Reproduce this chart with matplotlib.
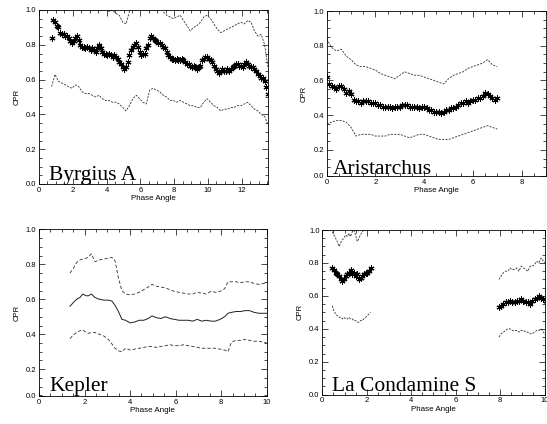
import numpy as np
import matplotlib
matplotlib.use("Agg")
from matplotlib import pyplot as plt
from matplotlib.ticker import MultipleLocator, FixedLocator, FixedFormatter

plt.rcParams["font.family"] = ["Liberation Sans", "DejaVu Sans"]

# ---- Byrgius A ----
byr_mid = [0.84, 0.94, 0.93, 0.91, 0.90, 0.87, 0.86, 0.86, 0.85, 0.85, 0.84, 0.82, 0.81, 0.82,
           0.84, 0.85, 0.83, 0.80, 0.79, 0.79, 0.78, 0.79, 0.78, 0.77, 0.78, 0.77, 0.76, 0.78,
           0.80, 0.78, 0.76, 0.75, 0.75, 0.74, 0.75, 0.74, 0.73, 0.74, 0.73, 0.72, 0.70, 0.69,
           0.67, 0.66, 0.67, 0.70, 0.74, 0.77, 0.79, 0.80, 0.81, 0.79, 0.76, 0.74, 0.75, 0.75,
           0.78, 0.80, 0.84, 0.85, 0.84, 0.83, 0.82, 0.81, 0.81, 0.80, 0.79, 0.78, 0.76, 0.74,
           0.73, 0.72, 0.72, 0.71, 0.72, 0.71, 0.71, 0.72, 0.71, 0.70, 0.69, 0.69, 0.68, 0.67,
           0.68, 0.67, 0.66, 0.67, 0.68, 0.71, 0.72, 0.73, 0.73, 0.72, 0.71, 0.70, 0.68, 0.66,
           0.65, 0.64, 0.65, 0.66, 0.65, 0.65, 0.66, 0.65, 0.66, 0.67, 0.68, 0.69, 0.69, 0.68,
           0.68, 0.67, 0.69, 0.70, 0.69, 0.68, 0.67, 0.67, 0.66, 0.65, 0.63, 0.62, 0.61, 0.61,
           0.59, 0.56, 0.52]
byr_lo = [0.56, 0.63, 0.59, 0.58, 0.57, 0.56, 0.55, 0.57, 0.56, 0.53, 0.52, 0.52, 0.51, 0.50,
          0.51, 0.49, 0.48, 0.48, 0.47, 0.47, 0.46, 0.44, 0.42, 0.45, 0.49, 0.51, 0.49, 0.47,
          0.46, 0.54, 0.55, 0.54, 0.53, 0.51, 0.50, 0.48, 0.48, 0.47, 0.48, 0.47, 0.46, 0.45,
          0.45, 0.44, 0.44, 0.47, 0.49, 0.47, 0.45, 0.44, 0.42, 0.43, 0.43, 0.44, 0.44, 0.45,
          0.45, 0.46, 0.47, 0.45, 0.43, 0.42, 0.40, 0.39, 0.34]
byr_hi = [1.10, 1.20, 1.17, 1.14, 1.13, 1.12, 1.08, 1.11, 1.10, 1.06, 1.05, 1.04, 1.04, 1.02,
          1.00, 1.02, 1.01, 0.99, 1.00, 0.98, 0.97, 0.93, 0.92, 0.99, 1.05, 1.09, 1.04, 1.02,
          1.05, 1.13, 1.14, 1.11, 1.08, 0.99, 0.97, 0.96, 0.95, 0.96, 0.97, 0.94, 0.91, 0.88,
          0.90, 0.91, 0.93, 0.96, 0.97, 0.95, 0.92, 0.89, 0.87, 0.88, 0.89, 0.90, 0.91, 0.92,
          0.93, 0.92, 0.94, 0.93, 0.88, 0.85, 0.86, 0.80, 0.67]

# ---- Aristarchus ----
ari_mid = [0.62, 0.58, 0.57, 0.56, 0.55, 0.57, 0.57, 0.55, 0.53, 0.54, 0.52, 0.49, 0.48, 0.48,
           0.47, 0.48, 0.48, 0.48, 0.47, 0.47, 0.47, 0.46, 0.46, 0.45, 0.45, 0.45, 0.45, 0.44,
           0.45, 0.45, 0.45, 0.46, 0.46, 0.46, 0.45, 0.45, 0.45, 0.45, 0.44, 0.45, 0.45, 0.44,
           0.43, 0.43, 0.42, 0.42, 0.42, 0.41, 0.42, 0.43, 0.43, 0.44, 0.44, 0.45, 0.46, 0.47,
           0.47, 0.48, 0.47, 0.48, 0.49, 0.49, 0.50, 0.50, 0.51, 0.53, 0.52, 0.51, 0.50, 0.49,
           0.50]
ari_hi = [0.84, 0.79, 0.77, 0.78, 0.74, 0.72, 0.69, 0.68, 0.68, 0.67, 0.66, 0.64, 0.63, 0.62,
          0.61, 0.63, 0.65, 0.64, 0.63, 0.63, 0.62, 0.61, 0.60, 0.59, 0.58, 0.61, 0.63, 0.64,
          0.65, 0.67, 0.68, 0.69, 0.70, 0.72, 0.69, 0.68]
ari_lo = [0.35, 0.36, 0.37, 0.37, 0.36, 0.33, 0.28, 0.29, 0.29, 0.29, 0.28, 0.28, 0.28, 0.29,
          0.29, 0.29, 0.28, 0.27, 0.28, 0.29, 0.29, 0.28, 0.27, 0.26, 0.26, 0.26, 0.27, 0.28,
          0.29, 0.30, 0.31, 0.32, 0.33, 0.34, 0.33, 0.32]

# ---- Kepler ----
kep_x = [1.36, 1.5, 1.65, 1.8, 1.92, 2.07, 2.17, 2.3, 2.46, 2.65, 2.85, 3.05, 3.2, 3.34, 3.49,
         3.64, 3.8, 4.0, 4.2, 4.4, 4.6, 4.8, 4.96, 5.15, 5.35, 5.55, 5.75, 5.95, 6.15, 6.35,
         6.55, 6.75, 6.95, 7.15, 7.35, 7.55, 7.75, 7.95, 8.15, 8.3, 8.45, 8.65, 8.85, 9.05,
         9.25, 9.45, 9.65, 9.85, 10.0]
kep_mid = [0.56, 0.58, 0.60, 0.61, 0.63, 0.62, 0.62, 0.63, 0.61, 0.60, 0.595, 0.595, 0.59,
           0.565, 0.53, 0.485, 0.48, 0.465, 0.47, 0.48, 0.48, 0.49, 0.505, 0.495, 0.49, 0.50,
           0.49, 0.485, 0.48, 0.48, 0.48, 0.475, 0.485, 0.475, 0.48, 0.475, 0.475, 0.485,
           0.50, 0.52, 0.525, 0.53, 0.53, 0.535, 0.535, 0.525, 0.52, 0.52, 0.52]
kep_hi = [0.75, 0.775, 0.81, 0.825, 0.83, 0.835, 0.84, 0.86, 0.815, 0.825, 0.83, 0.835, 0.84,
          0.82, 0.72, 0.65, 0.63, 0.625, 0.63, 0.64, 0.655, 0.67, 0.685, 0.675, 0.67, 0.665,
          0.655, 0.645, 0.64, 0.635, 0.63, 0.63, 0.64, 0.635, 0.63, 0.645, 0.64, 0.645, 0.66,
          0.70, 0.70, 0.70, 0.695, 0.70, 0.70, 0.69, 0.685, 0.69, 0.69]
kep_lo = [0.375, 0.395, 0.41, 0.42, 0.425, 0.41, 0.405, 0.41, 0.41, 0.40, 0.39, 0.37, 0.345,
          0.32, 0.305, 0.30, 0.32, 0.31, 0.315, 0.32, 0.325, 0.33, 0.33, 0.325, 0.33, 0.335,
          0.34, 0.335, 0.335, 0.34, 0.335, 0.33, 0.325, 0.32, 0.32, 0.32, 0.32, 0.315, 0.31,
          0.30, 0.355, 0.365, 0.365, 0.37, 0.365, 0.36, 0.36, 0.355, 0.35]

# ---- La Condamine S (two separate arcs) ----
lc1_x = [0.45, 0.52, 0.6, 0.67, 0.75, 0.82, 0.9, 0.97, 1.05, 1.12, 1.2, 1.27, 1.35, 1.42, 1.5,
         1.57, 1.65, 1.72, 1.8, 1.87, 1.95, 2.02, 2.1, 2.17]
lc1_mid = [0.77, 0.76, 0.74, 0.73, 0.72, 0.70, 0.69, 0.70, 0.72, 0.73, 0.74, 0.76, 0.73, 0.74,
           0.72, 0.73, 0.70, 0.71, 0.72, 0.73, 0.74, 0.74, 0.75, 0.77]
lc1_hi = [0.99, 0.97, 0.95, 0.93, 0.90, 0.92, 0.94, 0.95, 0.97, 0.96, 0.98, 0.96, 0.99, 1.00,
          0.97, 0.93, 0.95, 0.97, 0.99, 1.00, 1.01, 1.02, 1.01, 1.03]
lc1_lo = [0.54, 0.51, 0.49, 0.48, 0.47, 0.47, 0.46, 0.47, 0.46, 0.46, 0.47, 0.46, 0.46, 0.45,
          0.45, 0.44, 0.44, 0.45, 0.45, 0.46, 0.47, 0.48, 0.49, 0.50]
lc2_x = [7.95, 8.05, 8.15, 8.25, 8.35, 8.45, 8.55, 8.65, 8.75, 8.85, 8.95, 9.05, 9.15, 9.25,
         9.35, 9.45, 9.55, 9.65, 9.75, 9.85, 9.95, 10.05]
lc2_mid = [0.53, 0.54, 0.55, 0.56, 0.56, 0.57, 0.56, 0.56, 0.57, 0.57, 0.58, 0.57, 0.56, 0.56,
           0.55, 0.57, 0.58, 0.59, 0.60, 0.59, 0.58, 0.57]
lc2_hi = [0.70, 0.72, 0.74, 0.75, 0.75, 0.77, 0.76, 0.76, 0.77, 0.75, 0.78, 0.77, 0.76, 0.75,
          0.78, 0.78, 0.79, 0.81, 0.80, 0.83, 0.81, 0.80]
lc2_lo = [0.35, 0.37, 0.38, 0.39, 0.40, 0.40, 0.39, 0.39, 0.39, 0.38, 0.39, 0.39, 0.38, 0.38,
          0.37, 0.37, 0.38, 0.39, 0.39, 0.40, 0.38, 0.36]

ytick_vals = [0.0, 0.2, 0.4, 0.6, 0.8, 1.0]
ytick_text = ["0.0", "0.2", "0.4", "0.6", "0.8", "1.0"]

star = dict(ls="none", marker=(6, 2, 0), ms=4.3, mew=0.75, color="black")
dash = dict(color="#303030", lw=0.6, dashes=(2.5, 1.5))


def style(ax, xmax, ybot=0.0):
    ax.set_xlim(0, xmax)
    ax.set_ylim(ybot, 1.0)
    ax.xaxis.set_major_locator(MultipleLocator(2))
    ax.xaxis.set_minor_locator(MultipleLocator(0.5))
    yt = [ybot] + ytick_vals[1:]
    ax.yaxis.set_major_locator(FixedLocator(yt))
    ax.yaxis.set_major_formatter(FixedFormatter(ytick_text))
    ax.yaxis.set_minor_locator(MultipleLocator(0.05))
    ax.tick_params(which="both", direction="in", top=True, right=True,
                   width=0.5, labelsize=5.5, pad=2)
    ax.tick_params(which="major", length=4.5)
    ax.tick_params(which="minor", length=2.2)
    for s in ax.spines.values():
        s.set_linewidth(0.6)
    ax.set_xlabel("Phase Angle", fontsize=5.8, labelpad=1)
    ax.set_ylabel("CPR", fontsize=5.5, labelpad=4)


def big(ax, x, y, txt):
    ax.text(x, y, txt, transform=ax.transAxes, fontsize=15.5,
            family=["Liberation Serif", "DejaVu Serif"], ha="left", va="baseline")


fig = plt.figure(figsize=(5.47, 4.24), dpi=100)
W, H = 547.0, 424.0


def axes_px(l, r, t, b):
    return fig.add_axes([l / W, (H - b) / H, (r - l) / W, (b - t) / H])


# top left
ax = axes_px(39, 268, 10, 184)
x1 = np.linspace(0.75, 13.55, len(byr_mid))
x2 = np.linspace(0.75, 13.55, len(byr_lo))
ax.plot(x2, byr_hi, **dash)
ax.plot(x2, byr_lo, **dash)
ax.plot(x1, byr_mid, **star)
style(ax, 13.55)
big(ax, 0.044, 0.023, "Byrgius A")

# top right
ax = axes_px(326.7, 546, 11, 176)
x1 = np.linspace(0.0, 7.0, len(ari_mid))
x2 = np.linspace(0.0, 7.0, len(ari_hi))
ax.plot(x2, ari_hi, **dash)
ax.plot(x2, ari_lo, **dash)
ax.plot(x1, ari_mid, **star)
style(ax, 9.0, ybot=0.05)
big(ax, 0.03, 0.012, "Aristarchus")

# bottom left
ax = axes_px(39, 266.7, 229.3, 396)
ax.plot(kep_x, kep_hi, color="#303030", lw=0.6, dashes=(4, 2.5))
ax.plot(kep_x, kep_lo, color="#303030", lw=0.6, dashes=(4, 2.5))
ax.plot(kep_x, kep_mid, color="#202020", lw=0.7)
style(ax, 10.0, ybot=0.047)
big(ax, 0.045, 0.03, "Kepler")

# bottom right
ax = axes_px(322.3, 544.5, 230, 394.7)
for xs, hi, lo, mid in [(lc1_x, lc1_hi, lc1_lo, lc1_mid), (lc2_x, lc2_hi, lc2_lo, lc2_mid)]:
    ax.plot(xs, hi, **dash)
    ax.plot(xs, lo, **dash)
    ax.plot(xs, mid, **star)
style(ax, 10.0)
big(ax, 0.045, 0.02, "La Condamine S")

fig.savefig("out.png", dpi=100)
